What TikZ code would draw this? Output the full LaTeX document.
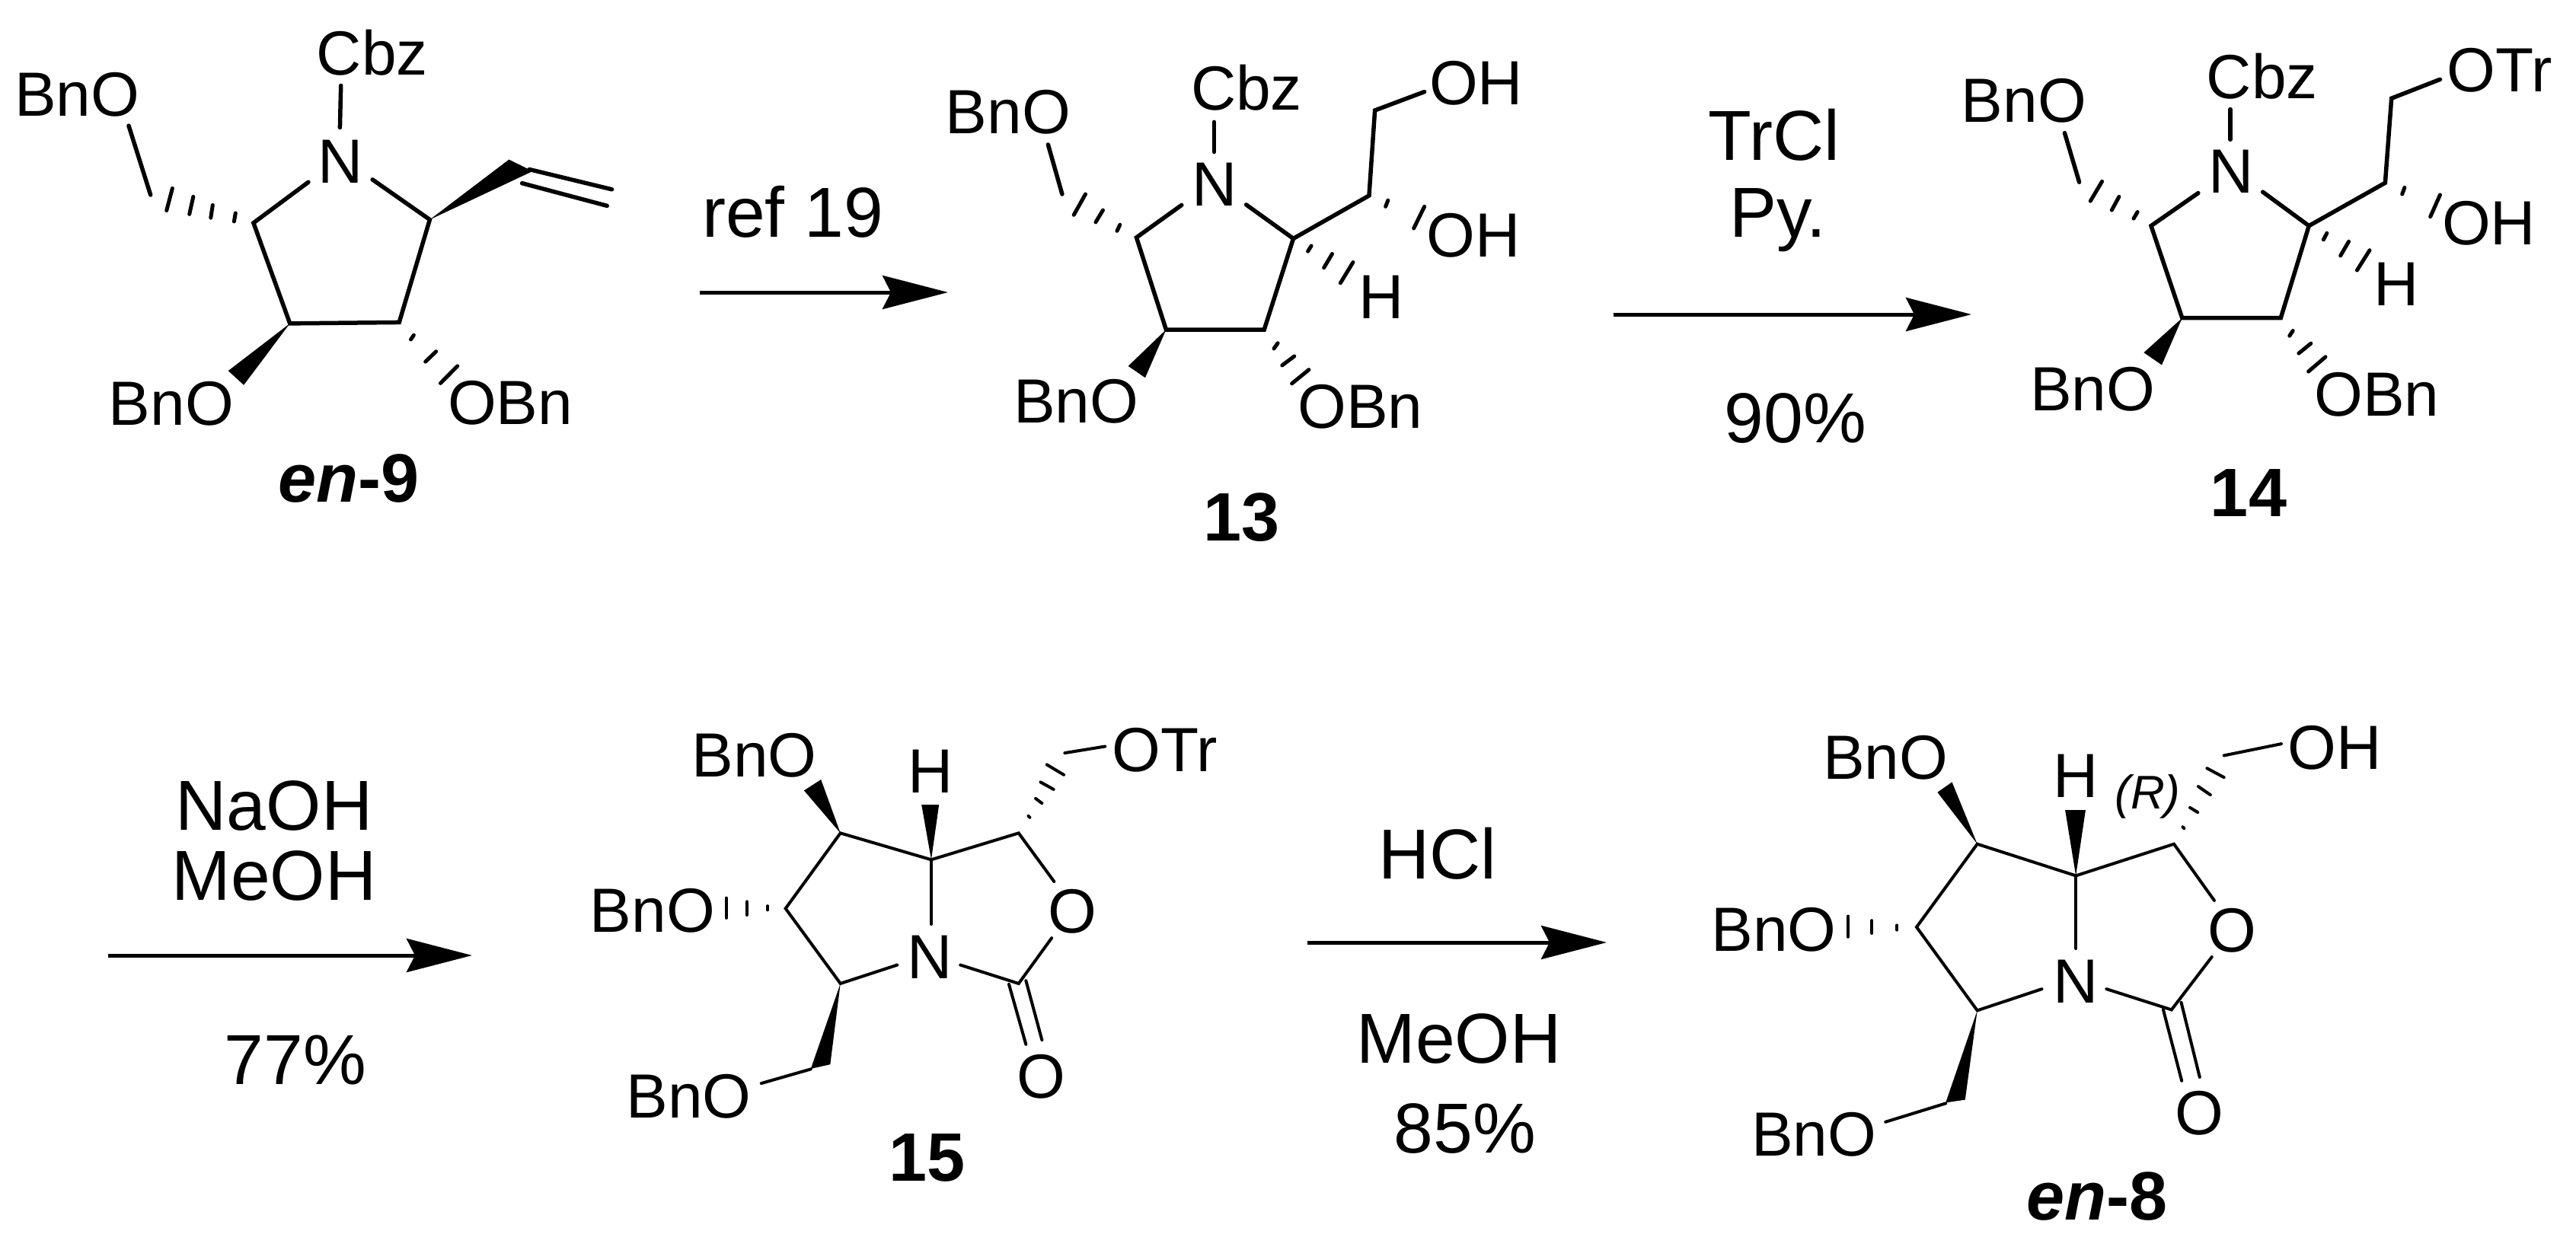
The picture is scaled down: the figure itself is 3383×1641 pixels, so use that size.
\documentclass[tikz,border=0pt]{standalone}
\usepackage{fontspec}
\setmainfont{Liberation Sans}
\usetikzlibrary{arrows.meta}
\tikzset{
  lbl/.style={anchor=base west,inner sep=0pt,outer sep=0pt,xshift=-5pt,font=\fontsize{82}{90}\selectfont},
  cmpd/.style={anchor=base west,inner sep=0pt,outer sep=0pt,xshift=-3pt,font=\fontsize{90}{98}\selectfont\bfseries},
  rgt/.style={anchor=base,inner sep=0pt,outer sep=0pt,font=\fontsize{93}{100}\selectfont},
  bond/.style={line width=5.5pt,line join=miter,line cap=round},
  bondb/.style={line width=4pt,line join=miter,line cap=round},
  hash/.style={line width=5pt,line cap=round},
  hashb/.style={line width=4pt,line cap=round},
  wedge/.style={fill=black,draw=none},
  rxn/.style={line width=5pt,-{Stealth[length=86pt,width=44pt,inset=11pt]}},
  zoomed/.style={x=0.63776pt,y=-0.47847pt}
}
\begin{document}
\begin{tikzpicture}[x=1pt,y=-1pt]
\useasboundingbox (0,0) rectangle (3383,1641);
\fill[white] (0,0) rectangle (3383,1641);

% ---------- en-9
\begin{scope}[zoomed]
\node[lbl] (a-cbz) at (660,205) {Cbz};
\node[lbl] (a-bno1) at (38,318) {BnO};
\node[lbl] (a-n) at (662,502) {N};
\node[lbl] (a-bno2) at (232,1168) {BnO};
\node[lbl] (a-obn) at (930,1165) {OBn};
\node[cmpd] (a-name) at (578,1378) {\itshape en\upshape -9};
\coordinate (a2) at (522,612);
\coordinate (a3) at (597,888);
\coordinate (a4) at (822,885);
\coordinate (a5) at (885,603);
\coordinate (an1) at (635,500);
\coordinate (an2) at (767,493);
\coordinate (ac1) at (702,235);
\coordinate (ac2) at (700,350);
\coordinate (ao1) at (265,345);
\coordinate (ao2) at (310,535);
\draw[bond] (an1) -- (a2) -- (a3) -- (a4) -- (a5) -- (an2);
\draw[bond] (ac1) -- (ac2);
\draw[bond] (ao1) -- (ao2);
\fill[wedge] (a5) -- (1048,438) -- (1097,470) -- cycle;
\draw[bond] (1090,465) -- (1260,520);
\draw[bond] (1075,503) -- (1250,565);
\fill[wedge] (a3) -- (470,1018) -- (502,1057) -- cycle;
\draw[hash] (355,517) -- (343,578) (398,540) -- (390,588) (438,563) -- (434,598) (485,585) -- (482,608);
\draw[hash] (852,920) -- (846,932) (898,965) -- (876,993) (942,1005) -- (907,1052);
\end{scope}

% ---------- 13
\begin{scope}[zoomed,xshift=1150pt]
\node[lbl] (b-cbz) at (657,303) {Cbz};
\node[lbl] (b-n) at (660,565) {N};
\node[lbl] (b-bno1) at (152,367) {BnO};
\node[lbl] (b-bno2) at (292,1160) {BnO};
\node[lbl] (b-obn) at (877,1175) {OBn};
\node[lbl] (b-oh1) at (1148,287) {OH};
\node[lbl] (b-oh2) at (1142,705) {OH};
\node[lbl] (b-h) at (1003,875) {H};
\node[cmpd] (b-name) at (680,1485) {13};
\coordinate (b2) at (537,652);
\coordinate (b3) at (598,905);
\coordinate (b4) at (800,905);
\coordinate (b5) at (860,655);
\coordinate (bn1) at (630,563);
\coordinate (bn2) at (763,562);
\coordinate (bc1) at (697,335);
\coordinate (bc2) at (697,417);
\coordinate (bo1) at (355,397);
\coordinate (bo2) at (384,533);
\coordinate (bs1) at (1016,537);
\coordinate (bs2) at (1028,303);
\coordinate (bs3) at (1130,252);
\draw[bond] (bn1) -- (b2) -- (b3) -- (b4) -- (b5) -- (bn2);
\draw[bond] (bc1) -- (bc2);
\draw[bond] (bo1) -- (bo2);
\draw[bond] (b5) -- (bs1) -- (bs2) -- (bs3);
\fill[wedge] (b3) -- (520,1005) -- (555,1037) -- cycle;
\draw[hash] (432,533) -- (408,590) (468,577) -- (453,610) (503,617) -- (497,634);
\draw[hash] (828,942) -- (820,957) (862,978) -- (837,1003) (892,1015) -- (857,1053);
\draw[hash] (1055,550) -- (1050,567) (1130,567) -- (1108,627);
\draw[hash] (897,675) -- (890,690) (940,697) -- (923,735) (983,720) -- (957,777);
\end{scope}

% ---------- 14
\begin{scope}[zoomed,xshift=2383pt]
\node[lbl] (c-cbz) at (815,270) {Cbz};
\node[lbl] (c-n) at (820,530) {N};
\node[lbl] (c-bno1) at (310,335) {BnO};
\node[lbl] (c-bno2) at (452,1128) {BnO};
\node[lbl] (c-obn) at (1037,1142) {OBn};
\node[lbl] (c-otr) at (1310,252) {OTr};
\node[lbl] (c-oh) at (1300,672) {OH};
\node[lbl] (c-h) at (1160,840) {H};
\node[cmpd] (c-name) at (820,1418) {14};
\coordinate (c2) at (693,620);
\coordinate (c3) at (757,873);
\coordinate (c4) at (960,873);
\coordinate (c5) at (1018,620);
\coordinate (cn1) at (790,530);
\coordinate (cn2) at (923,527);
\coordinate (cc1) at (856,300);
\coordinate (cc2) at (856,383);
\coordinate (co1) at (515,365);
\coordinate (co2) at (545,500);
\coordinate (cs1) at (1175,502);
\coordinate (cs2) at (1188,270);
\coordinate (cs3) at (1288,218);
\draw[bond] (cn1) -- (c2) -- (c3) -- (c4) -- (c5) -- (cn2);
\draw[bond] (cc1) -- (cc2);
\draw[bond] (co1) -- (co2);
\draw[bond] (c5) -- (cs1) -- (cs2) -- (cs3);
\fill[wedge] (c3) -- (678,968) -- (715,1002) -- cycle;
\draw[hash] (592,498) -- (568,552) (627,540) -- (612,577) (665,582) -- (657,600);
\draw[hash] (985,908) -- (978,922) (1022,943) -- (997,970) (1052,980) -- (1017,1020);
\draw[hash] (1215,515) -- (1210,533) (1288,535) -- (1268,595);
\draw[hash] (1055,640) -- (1048,658) (1100,663) -- (1083,702) (1143,687) -- (1117,742);
\end{scope}

% ---------- 15
\begin{scope}[zoomed,xshift=700pt,yshift=-891pt]
\node[lbl] (d-bno1) at (335,270) {BnO};
\node[lbl] (d-h) at (780,315) {H};
\node[lbl] (d-otr) at (1200,257) {OTr};
\node[lbl] (d-bno2) at (125,697) {BnO};
\node[lbl] (d-o) at (1068,700) {O};
\node[lbl] (d-n) at (778,825) {N};
\node[lbl] (d-oc) at (1005,1153) {O};
\node[lbl] (d-bno3) at (200,1207) {BnO};
\node[cmpd] (d-name) at (738,1380) {15};
\coordinate (d1) at (633,425);
\coordinate (d2) at (520,632);
\coordinate (d3) at (633,838);
\coordinate (dj) at (820,498);
\coordinate (dr) at (1000,425);
\coordinate (dc) at (1000,838);
\coordinate (dn) at (820,675);
\coordinate (dn1) at (750,787);
\coordinate (dn2) at (880,787);
\coordinate (do1) at (1068,713);
\coordinate (do2) at (1073,558);
\coordinate (dm) at (572,1073);
\coordinate (dm2) at (470,1112);
\draw[bondb] (dn1) -- (d3) -- (d2) -- (d1) -- (dj) -- (dr) -- (do2);
\draw[bondb] (dj) -- (dn);
\draw[bondb] (dn2) -- (dc) -- (do1);
\draw[bondb] (980,840) -- (1015,1005);
\draw[bondb] (1015,830) -- (1048,993);
\draw[bondb] (dm) -- (dm2);
\draw[bondb] (1095,205) -- (1178,187);
\fill[wedge] (d1) -- (558,308) -- (593,278) -- cycle;
\fill[wedge] (dj) -- (800,347) -- (836,347) -- cycle;
\fill[wedge] (d3) -- (572,1072) -- (612,1060) -- cycle;
\draw[hashb] (483,625) -- (483,636) (440,613) -- (440,650) (398,603) -- (398,658);
\draw[hashb] (1020,378) -- (1023,382) (1035,330) -- (1048,343) (1045,285) -- (1072,305) (1058,237) -- (1093,265);
\end{scope}

% ---------- en-8
\begin{scope}[zoomed,xshift=2200pt,yshift=-891pt]
\node[lbl] (e-bno1) at (312,277) {BnO};
\node[lbl] (e-h) at (787,327) {H};
\node[anchor=base west,inner sep=0pt,font=\fontsize{62}{70}\selectfont\itshape] (e-r) at (905,358) {(R)};
\node[lbl] (e-oh) at (1270,250) {OH};
\node[lbl] (e-bno2) at (82,750) {BnO};
\node[lbl] (e-o) at (1105,752) {O};
\node[lbl] (e-n) at (787,892) {N};
\node[lbl] (e-oc) at (1037,1253) {O};
\node[lbl] (e-bno3) at (165,1312) {BnO};
\node[cmpd] (e-name) at (728,1488) {\itshape en\upshape -8};
\coordinate (e1) at (622,455);
\coordinate (e2) at (497,683);
\coordinate (e3) at (622,912);
\coordinate (ej) at (825,542);
\coordinate (er) at (1027,455);
\coordinate (ec) at (1022,910);
\coordinate (en) at (825,742);
\coordinate (en1) at (755,853);
\coordinate (en2) at (888,853);
\coordinate (eo1) at (1105,765);
\coordinate (eo2) at (1110,610);
\coordinate (em) at (557,1167);
\coordinate (em2) at (433,1218);
\draw[bondb] (en1) -- (e3) -- (e2) -- (e1) -- (ej) -- (er) -- (eo2);
\draw[bondb] (ej) -- (en);
\draw[bondb] (en2) -- (ec) -- (eo1);
\draw[bondb] (1005,910) -- (1043,1105);
\draw[bondb] (1042,890) -- (1080,1095);
\draw[bondb] (em) -- (em2);
\draw[bondb] (1130,212) -- (1248,180);
\fill[wedge] (e1) -- (540,313) -- (570,285) -- cycle;
\fill[wedge] (ej) -- (803,362) -- (845,362) -- cycle;
\fill[wedge] (e3) -- (557,1165) -- (597,1157) -- cycle;
\draw[hashb] (457,678) -- (457,691) (405,665) -- (405,700) (356,653) -- (356,710);
\draw[hashb] (1045,408) -- (1048,412) (1060,355) -- (1076,368) (1077,297) -- (1102,320) (1095,247) -- (1130,272);
\end{scope}

% ---------- arrows
\coordinate (r1a) at (919,384); \coordinate (r1b) at (1245,384);
\coordinate (r2a) at (2119,413); \coordinate (r2b) at (2589,413);
\coordinate (r3a) at (142,1255); \coordinate (r3b) at (620,1255);
\coordinate (r4a) at (1717,1238); \coordinate (r4b) at (2110,1238);
\draw[rxn] (r1a) -- (r1b);
\draw[rxn] (r2a) -- (r2b);
\draw[rxn] (r3a) -- (r3b);
\draw[rxn] (r4a) -- (r4b);
\node[rgt] (t1) at (1041,311) {ref 19};
\node[rgt] (t2) at (2330,210) {TrCl};
\node[rgt] (t3) at (2335,311) {Py.};
\node[rgt] (t4) at (2358,581) {90\%};
\node[rgt] (t5) at (360,1090) {NaOH};
\node[rgt] (t6) at (360,1182) {MeOH};
\node[rgt] (t7) at (388,1424) {77\%};
\node[rgt] (t8) at (1888,1154) {HCl};
\node[rgt] (t9) at (1916,1396) {MeOH};
\node[rgt] (t10) at (1924,1514) {85\%};
\end{tikzpicture}
\end{document}
